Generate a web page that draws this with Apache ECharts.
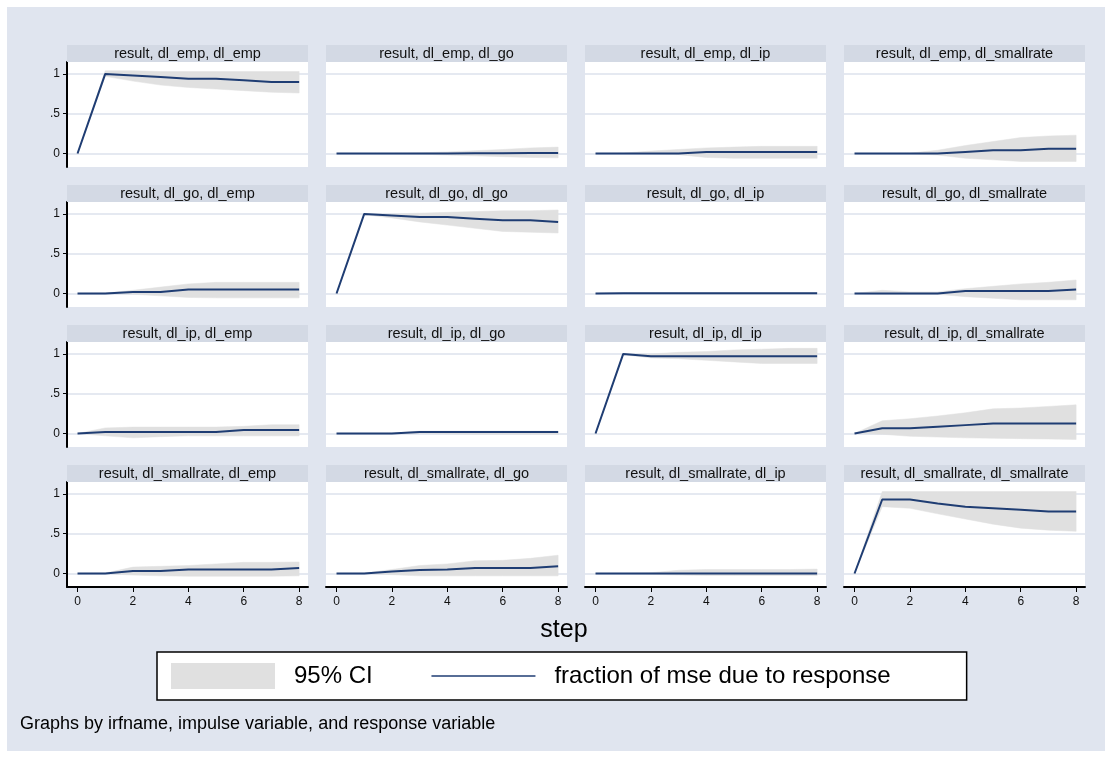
<!DOCTYPE html>
<html><head><meta charset="utf-8">
<script src="https://cdn.jsdelivr.net/npm/echarts@6/dist/echarts.min.js"></script>
<style>html,body{margin:0;padding:0;background:#fff;} #c{width:1112px;height:758px;}</style>
</head><body><div id="c"></div><script>
// ---------- data ----------
const steps = [0, 1, 2, 3, 4, 5, 6, 7, 8];
const xTickValues = [0, 2, 4, 6, 8];
const yTickValues = [0, 0.5, 1];
const yTickLabels = {0: '0', 0.5: '.5', 1: '1'};
const vars = ['dl_emp', 'dl_go', 'dl_ip', 'dl_smallrate'];
const irfName = 'result';
const legendCI = '95% CI';
const legendLine = 'fraction of mse due to response';
const xTitle = 'step';
const note = 'Graphs by irfname, impulse variable, and response variable';

// impulse dl_emp
const emp_emp    = [0, 1, 0.98, 0.96, 0.94, 0.94, 0.92, 0.90, 0.90];
const emp_emp_lo = [0, 0.97, 0.91, 0.86, 0.83, 0.81, 0.79, 0.77, 0.76];
const emp_emp_hi = [0, 1.04, 1.04, 1.03, 1.03, 1.03, 1.03, 1.03, 1.03];
const emp_go     = [0, 0, 0, 0, 0, 0.002, 0.004, 0.005, 0.005];
const emp_go_lo  = [0, 0, -0.002, -0.008, -0.02, -0.03, -0.04, -0.05, -0.055];
const emp_go_hi  = [0, 0, 0.002, 0.008, 0.02, 0.035, 0.05, 0.07, 0.08];
const emp_ip     = [0, 0, 0, 0, 0.02, 0.02, 0.02, 0.02, 0.02];
const emp_ip_lo  = [0, 0, -0.005, -0.015, -0.05, -0.06, -0.06, -0.06, -0.06];
const emp_ip_hi  = [0, 0.005, 0.03, 0.05, 0.07, 0.08, 0.09, 0.09, 0.09];
const emp_sr     = [0, 0, 0, 0, 0.02, 0.04, 0.04, 0.06, 0.06];
const emp_sr_lo  = [0, 0, -0.003, -0.02, -0.06, -0.08, -0.1, -0.1, -0.1];
const emp_sr_hi  = [0, 0, 0.005, 0.04, 0.1, 0.15, 0.2, 0.22, 0.23];
// impulse dl_go
const go_emp     = [0, 0, 0.02, 0.02, 0.05, 0.05, 0.05, 0.05, 0.05];
const go_emp_lo  = [0, -0.002, -0.01, -0.03, -0.05, -0.055, -0.055, -0.055, -0.055];
const go_emp_hi  = [0, 0.005, 0.04, 0.08, 0.12, 0.14, 0.14, 0.14, 0.14];
const go_go      = [0, 1, 0.98, 0.96, 0.96, 0.94, 0.92, 0.92, 0.90];
const go_go_lo   = [0, 0.99, 0.95, 0.90, 0.86, 0.82, 0.78, 0.77, 0.76];
const go_go_hi   = [0, 1.0, 1.0, 1.01, 1.02, 1.03, 1.04, 1.04, 1.05];
const go_ip      = [0, 0.002, 0.002, 0.002, 0.002, 0.002, 0.002, 0.002, 0.002];
const go_ip_lo   = [0, -0.003, -0.004, -0.005, -0.005, -0.005, -0.005, -0.005, -0.005];
const go_ip_hi   = [0, 0.008, 0.009, 0.01, 0.01, 0.01, 0.01, 0.01, 0.01];
const go_sr      = [0, 0, 0, 0, 0.03, 0.03, 0.03, 0.03, 0.05];
const go_sr_lo   = [0, -0.01, -0.01, -0.01, -0.04, -0.06, -0.08, -0.08, -0.08];
const go_sr_hi   = [0, 0.04, 0.02, 0.02, 0.06, 0.09, 0.12, 0.14, 0.17];
// impulse dl_ip
const ip_emp     = [0, 0.02, 0.02, 0.02, 0.02, 0.02, 0.045, 0.045, 0.045];
const ip_emp_lo  = [0, -0.03, -0.055, -0.04, -0.03, -0.03, -0.03, -0.03, -0.03];
const ip_emp_hi  = [0, 0.07, 0.08, 0.08, 0.08, 0.08, 0.09, 0.11, 0.11];
const ip_go      = [0, 0, 0, 0.02, 0.02, 0.02, 0.02, 0.02, 0.02];
const ip_go_lo   = [0, 0, -0.005, 0, -0.005, -0.01, -0.01, -0.01, -0.01];
const ip_go_hi   = [0, 0, 0.005, 0.03, 0.03, 0.03, 0.03, 0.03, 0.03];
const ip_ip      = [0, 1, 0.97, 0.97, 0.97, 0.97, 0.97, 0.97, 0.97];
const ip_ip_lo   = [0, 0.99, 0.95, 0.94, 0.92, 0.90, 0.88, 0.88, 0.88];
const ip_ip_hi   = [0, 1.0, 1.0, 1.02, 1.03, 1.05, 1.06, 1.07, 1.07];
const ip_sr      = [0, 0.065, 0.065, 0.085, 0.105, 0.125, 0.125, 0.125, 0.125];
const ip_sr_lo   = [0, -0.01, -0.035, -0.045, -0.055, -0.06, -0.065, -0.07, -0.075];
const ip_sr_hi   = [0, 0.16, 0.185, 0.22, 0.26, 0.31, 0.32, 0.34, 0.36];
// impulse dl_smallrate
const sr_emp     = [0, 0, 0.03, 0.03, 0.05, 0.05, 0.05, 0.05, 0.07];
const sr_emp_lo  = [0, -0.002, -0.02, -0.03, -0.035, -0.035, -0.035, -0.035, -0.03];
const sr_emp_hi  = [0, 0.005, 0.08, 0.09, 0.10, 0.12, 0.14, 0.14, 0.145];
const sr_go      = [0, 0, 0.025, 0.045, 0.05, 0.07, 0.07, 0.07, 0.09];
const sr_go_lo   = [0, -0.003, -0.015, -0.03, -0.03, -0.03, -0.03, -0.03, -0.03];
const sr_go_hi   = [0, 0.005, 0.05, 0.10, 0.12, 0.16, 0.165, 0.19, 0.23];
const sr_ip      = [0, 0, 0, 0, 0, 0, 0, 0, 0];
const sr_ip_lo   = [0, -0.002, -0.01, -0.02, -0.025, -0.025, -0.025, -0.025, -0.025];
const sr_ip_hi   = [0, 0.002, 0.01, 0.04, 0.05, 0.05, 0.05, 0.05, 0.055];
const sr_sr      = [0, 0.93, 0.93, 0.88, 0.84, 0.82, 0.80, 0.78, 0.78];
const sr_sr_lo   = [0, 0.84, 0.82, 0.75, 0.685, 0.62, 0.57, 0.545, 0.53];
const sr_sr_hi   = [0, 1.03, 1.03, 1.03, 1.03, 1.03, 1.03, 1.03, 1.03];

const panelData = [
  [[emp_emp, emp_emp_lo, emp_emp_hi], [emp_go, emp_go_lo, emp_go_hi], [emp_ip, emp_ip_lo, emp_ip_hi], [emp_sr, emp_sr_lo, emp_sr_hi]],
  [[go_emp, go_emp_lo, go_emp_hi], [go_go, go_go_lo, go_go_hi], [go_ip, go_ip_lo, go_ip_hi], [go_sr, go_sr_lo, go_sr_hi]],
  [[ip_emp, ip_emp_lo, ip_emp_hi], [ip_go, ip_go_lo, ip_go_hi], [ip_ip, ip_ip_lo, ip_ip_hi], [ip_sr, ip_sr_lo, ip_sr_hi]],
  [[sr_emp, sr_emp_lo, sr_emp_hi], [sr_go, sr_go_lo, sr_go_hi], [sr_ip, sr_ip_lo, sr_ip_hi], [sr_sr, sr_sr_lo, sr_sr_hi]]
];

// ---------- layout / style ----------
const FONT = '"Liberation Sans", Arial, sans-serif';
const BG = '#E0E5EF';
const STRIP = '#D3D9E4';
const GRIDLINE = '#DCE2ED';
const CI = '#E0E0E0';
const NAVY = '#1F3D73';
const colLeft = [67, 326, 585, 844];
const rowTop = [62, 202, 342, 482];
const gridW = 241, gridH = 105, stripH = 17;

const grids = [], xAxes = [], yAxes = [], series = [];
const graphics = [{
  type: 'rect', z: -100, shape: {x: 7, y: 7, width: 1098, height: 744},
  style: {fill: BG}, silent: true
}];

let idx = 0;
for (let r = 0; r < 4; r++) {
  for (let c = 0; c < 4; c++) {
    const [val, lo, hi] = panelData[r][c];
    grids.push({left: colLeft[c], top: rowTop[r], width: gridW, height: gridH,
      show: true, backgroundColor: '#fff', borderWidth: 0, containLabel: false});
    const bottomRow = r === 3, firstCol = c === 0;
    xAxes.push({
      type: 'value', gridIndex: idx, min: -0.38, max: 8.32,
      axisLine: {show: bottomRow, onZero: false, lineStyle: {color: '#000', width: 2}},
      axisTick: {show: bottomRow, length: 5, customValues: xTickValues, lineStyle: {color: '#000', width: 1}},
      axisLabel: {show: bottomRow, customValues: xTickValues, margin: 9, fontSize: 12,
        color: '#111', fontFamily: FONT},
      splitLine: {show: false}
    });
    yAxes.push({
      type: 'value', gridIndex: idx, min: -0.17, max: 1.15,
      axisLine: {show: firstCol, onZero: false, lineStyle: {color: '#000', width: 2}},
      axisTick: {show: firstCol, length: 4, customValues: yTickValues, lineStyle: {color: '#000', width: 1}},
      axisLabel: {show: firstCol, customValues: yTickValues, margin: 7, fontSize: 12,
        color: '#111', fontFamily: FONT, formatter: v => yTickLabels[v] !== undefined ? yTickLabels[v] : ''},
      splitLine: {show: true, lineStyle: {color: GRIDLINE, width: 1.5}}
    });
    const loArr = lo, hiArr = hi;
    series.push({
      type: 'custom', name: legendCI, xAxisIndex: idx, yAxisIndex: idx,
      itemStyle: {color: CI},
      data: steps.map((s, i) => [s, loArr[i], hiArr[i]]),
      encode: {x: 0, y: [1, 2]},
      silent: true, z: 1,
      renderItem: function (params, api) {
        if (params.dataIndex !== 0) return null;
        const pts = [];
        for (let i = 0; i < steps.length; i++) pts.push(api.coord([steps[i], hiArr[i]]));
        for (let i = steps.length - 1; i >= 0; i--) pts.push(api.coord([steps[i], loArr[i]]));
        return {type: 'polygon', shape: {points: pts}, style: {fill: CI, stroke: CI, lineWidth: 0.5}};
      }
    });
    series.push({
      type: 'line', name: legendLine, xAxisIndex: idx, yAxisIndex: idx,
      data: steps.map((s, i) => [s, val[i]]),
      symbol: 'none', showSymbol: false, silent: true, z: 3,
      lineStyle: {color: NAVY, width: 2}, itemStyle: {color: NAVY}
    });
    graphics.push({type: 'rect', z: 10, silent: true,
      shape: {x: colLeft[c], y: rowTop[r] - stripH, width: gridW, height: stripH},
      style: {fill: STRIP}});
    graphics.push({type: 'text', z: 11, silent: true,
      x: colLeft[c] + gridW / 2, y: rowTop[r] - stripH / 2,
      style: {text: irfName + ', ' + vars[r] + ', ' + vars[c], fill: '#111',
        font: '14.5px ' + FONT, textAlign: 'center', textVerticalAlign: 'middle'}});
    idx++;
  }
}
graphics.push({type: 'text', z: 11, silent: true, x: 564, y: 630,
  style: {text: xTitle, fill: '#000', font: '25px ' + FONT, textAlign: 'center', textVerticalAlign: 'middle'}});
graphics.push({type: 'text', z: 11, silent: true, x: 20, y: 724,
  style: {text: note, fill: '#000', font: '18px ' + FONT, textAlign: 'left', textVerticalAlign: 'middle'}});

const chart = echarts.init(document.getElementById('c'), null, {renderer: 'canvas'});
chart.setOption({
  backgroundColor: '#fff',
  animation: false,
  grid: grids, xAxis: xAxes, yAxis: yAxes, series: series,
  graphic: graphics,
  legend: {
    left: 157, top: 652, orient: 'horizontal', selectedMode: false,
    data: [{name: legendCI, icon: 'rect', itemStyle: {color: CI}},
           {name: legendLine, itemStyle: {opacity: 0}, lineStyle: {color: NAVY, width: 1.5}}],
    itemWidth: 104, itemHeight: 26, itemGap: 58,
    padding: [11, 76, 11, 14],
    backgroundColor: '#fff', borderColor: '#000', borderWidth: 1.5, borderRadius: 0,
    textStyle: {fontSize: 24, color: '#000', fontFamily: FONT, padding: [0, 0, 0, 14]}
  }
});
</script></body></html>
